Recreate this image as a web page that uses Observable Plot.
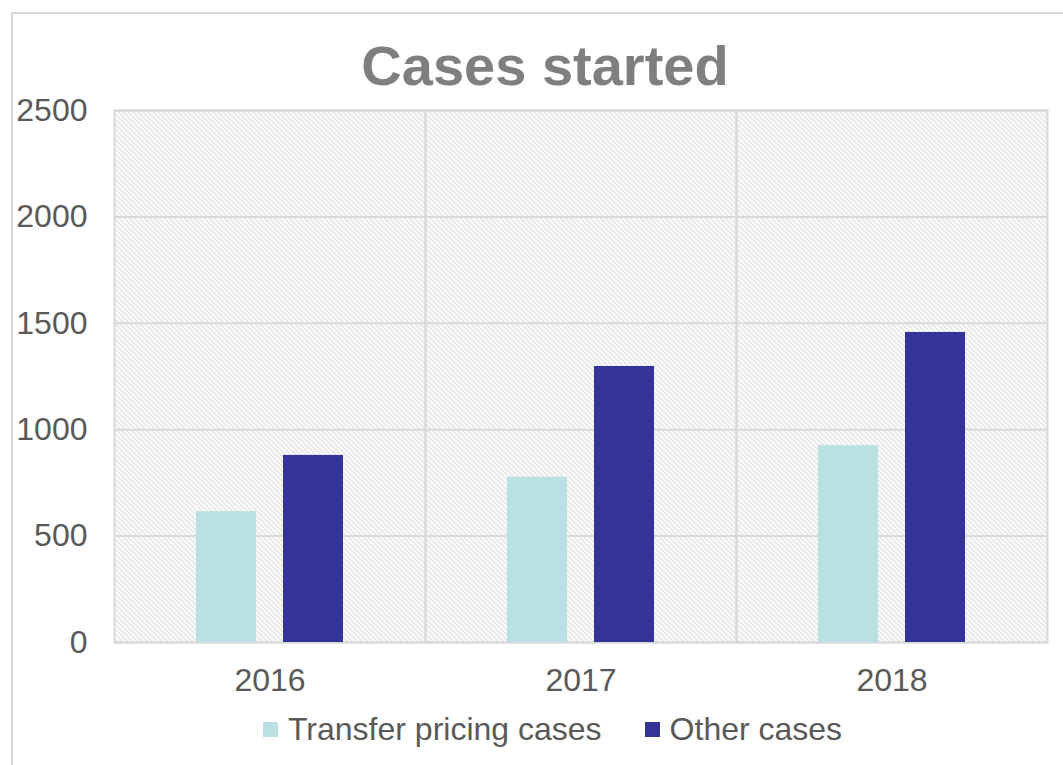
<!DOCTYPE html>
<html>
<head>
<meta charset="utf-8">
<script src="https://cdn.jsdelivr.net/npm/d3@7"></script>
<script src="https://cdn.jsdelivr.net/npm/@observablehq/plot@0.6"></script>
<style>
  html, body { margin: 0; padding: 0; background: #fff; }
  #wrap { position: relative; width: 1063px; height: 765px; overflow: hidden; font-family: "Liberation Sans", Arial, sans-serif; }
  #border { position: absolute; left: 11px; top: 12px; width: 1120px; height: 820px; border: 2px solid #d9d9d9; box-sizing: border-box; }
  #title { position: absolute; left: 0; top: 38px; width: 1090px; text-align: center; font-size: 56px; line-height: 56px; font-weight: bold; color: #7f7f7f; }
  #chart { position: absolute; left: 0; top: 0; }
  #legend { position: absolute; left: 263px; top: 713px; height: 32px; display: flex; align-items: center; font-size: 32px; line-height: 32px; color: #595959; white-space: nowrap; }
  .sw { width: 15px; height: 15px; display: inline-block; margin-right: 10px; }
  .item { display: flex; align-items: center; }
</style>
</head>
<body>
<div id="wrap">
  <div id="border"></div>
  <div id="chart"></div>
  <div id="title">Cases started</div>
  <div id="legend"></div>
</div>
<script>
const years = ["2016", "2017", "2018"];
const seriesNames = ["Transfer pricing cases", "Other cases"];
const transferPricing = [615, 777, 925];
const otherCases = [879, 1297, 1457];
const yTicks = [0, 500, 1000, 1500, 2000, 2500];
const colors = ["#bae0e3", "#333399"];

const data = [];
years.forEach((y, i) => {
  data.push({year: y, series: seriesNames[0], value: transferPricing[i]});
  data.push({year: y, series: seriesNames[1], value: otherCases[i]});
});

const svg = Plot.plot({
  width: 1063,
  height: 700,
  marginTop: 110,
  marginBottom: 58,
  marginLeft: 113,
  marginRight: 15,
  style: {fontFamily: "Liberation Sans, Arial, sans-serif", fontSize: "32px", color: "#595959", background: "transparent"},
  fx: {domain: years, padding: 0, label: null},
  x: {domain: seriesNames, paddingInner: 0.309, paddingOuter: 0.936, axis: null},
  y: {domain: [0, 2500], label: null},
  color: {domain: seriesNames, range: colors},
  marks: [
    Plot.frame({fill: "url(#hatch)", stroke: null}),
    Plot.gridY(yTicks, {stroke: "#d9d9d9", strokeOpacity: 1, strokeWidth: 2}),
    Plot.frame({stroke: "#d9d9d9", strokeWidth: 2}),
    Plot.barY(data, {fx: "year", x: "series", y: "value", fill: "series", insetLeft: 0, insetRight: 0}),
    Plot.axisY(yTicks, {tickSize: 0, tickPadding: 27, fontSize: 32, fill: "#595959", label: null, tickFormat: d => String(d)}),
    Plot.axisFx({anchor: "bottom", tickSize: 0, tickPadding: 26, fontSize: 32, fill: "#595959", label: null})
  ]
});

d3.select(svg).insert("defs", ":first-child").html(
  '<pattern id="hatch" patternUnits="userSpaceOnUse" width="5" height="5">' +
  '<rect width="5" height="5" fill="#ffffff"/>' +
  '<path d="M-1,-1 L6,6 M-1,4 L1,6 M4,-1 L6,1" stroke="#d6d6d6" stroke-width="1.15"/>' +
  '</pattern>'
);
document.getElementById("chart").appendChild(svg);

const legend = d3.select("#legend");
seriesNames.forEach((name, i) => {
  const item = legend.append("div").attr("class", "item").style("margin-right", i === 0 ? "43px" : "0px");
  item.append("span").attr("class", "sw").style("background", colors[i]);
  item.append("span").text(name);
});
</script>
</body>
</html>
